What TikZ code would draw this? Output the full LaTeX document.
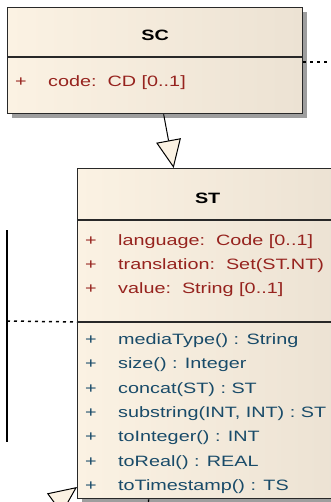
\documentclass[tikz,border=0pt]{standalone}
\usepackage{fontspec}
\setmainfont[FakeStretch=1.32]{Liberation Sans}
\usetikzlibrary{arrows.meta,shadows}

\definecolor{creamleft}{RGB}{251,242,227}
\definecolor{creamright}{RGB}{236,226,211}
\definecolor{attrred}{RGB}{150,35,30}
\definecolor{operteal}{RGB}{25,75,105}
\definecolor{boxline}{RGB}{40,40,40}

\tikzset{
  classbox/.style={draw=boxline, line width=1.3pt, left color=creamleft, right color=creamright,
    anchor=north west, inner sep=0pt,
    drop shadow={shadow xshift=4pt, shadow yshift=-4pt, fill=black!38, opacity=1}},
  divider/.style={draw=boxline, line width=1.3pt},
  classname/.style={font=\fontsize{15}{18}\selectfont\bfseries, inner sep=0pt},
  attr/.style={text=attrred, anchor=base west, inner sep=0pt},
  oper/.style={text=operteal, anchor=base west, inner sep=0pt},
  generalize/.style={-{Triangle[length=28pt,width=25pt,fill=creamleft]}, draw=black, line width=1pt},
  solidlink/.style={draw=black, line width=1.3pt},
  linkdots/.style={draw=black, line width=1.5pt, dash pattern=on 3pt off 4pt},
}

\begin{document}
\begin{tikzpicture}[x=1pt, y=-1pt, font=\fontsize{15}{18}\selectfont]
\path[use as bounding box, clip] (0,0) rectangle (331,502);

% SC
\node[classbox, minimum width=295pt, minimum height=106pt] (sc) at (7,7) {};
\draw[divider] ([yshift=-50pt]sc.north west) -- ([yshift=-50pt]sc.north east);
\node[classname] (sctitle) at ([yshift=-28pt]sc.north) {SC};
\node[attr] (scplus) at ([xshift=8pt,yshift=-80pt]sc.north west) {+};
\node[attr] (sccode) at ([xshift=41pt,yshift=-80pt]sc.north west) {code:\ \ CD [0..1]};

% ST
\node[classbox, minimum width=260pt, minimum height=330pt] (st) at (77,168) {};
\draw[divider] ([yshift=-52pt]st.north west) -- ([yshift=-52pt]st.north east);
\draw[divider] ([yshift=-154pt]st.north west) -- ([yshift=-154pt]st.north east);
\node[classname] (sttitle) at ([yshift=-30pt]st.north) {ST};
\foreach \txt [count=\i from 0] in {language:\ \ Code [0..1], translation:\ \ Set(ST.NT), value:\ \ String [0..1]} {
  \node[attr] (stattrplus\i) at ([xshift=8pt,yshift=-77pt-24*\i pt]st.north west) {+};
  \node[attr] (stattr\i) at ([xshift=41pt,yshift=-77pt-24*\i pt]st.north west) {\txt};
}
\foreach \txt [count=\i from 0] in {mediaType() : String, size() : Integer, concat(ST) : ST,
    {substring(INT, INT) : ST}, toInteger() : INT, toReal() : REAL, toTimestamp() : TS} {
  \node[oper] (stopplus\i) at ([xshift=8pt,yshift=-176.5pt-24.3*\i pt]st.north west) {+};
  \node[oper] (stop\i) at ([xshift=41pt,yshift=-176.5pt-24.3*\i pt]st.north west) {\txt};
}

% links
\coordinate (scright) at (336,62);
\coordinate (leftend) at (7,321);
\coordinate (leftup) at (7,230);
\coordinate (leftdown) at (7,442);
\coordinate (lowsub) at (28,523);
\coordinate (lowlink) at (148,512);
\draw[generalize] ([xshift=8.5pt]sc.south) -- ([xshift=-34pt]st.north);
\draw[generalize] (lowsub) -- ([yshift=-319pt]st.north west);
\draw[solidlink] ([xshift=-59pt]st.south) -- (lowlink);
\draw[solidlink] (leftup) -- (leftdown);
\draw[linkdots] ([yshift=-55pt]sc.north east) -- (scright);
\draw[linkdots] (leftend) -- ([yshift=-154pt]st.north west);
\end{tikzpicture}
\end{document}
